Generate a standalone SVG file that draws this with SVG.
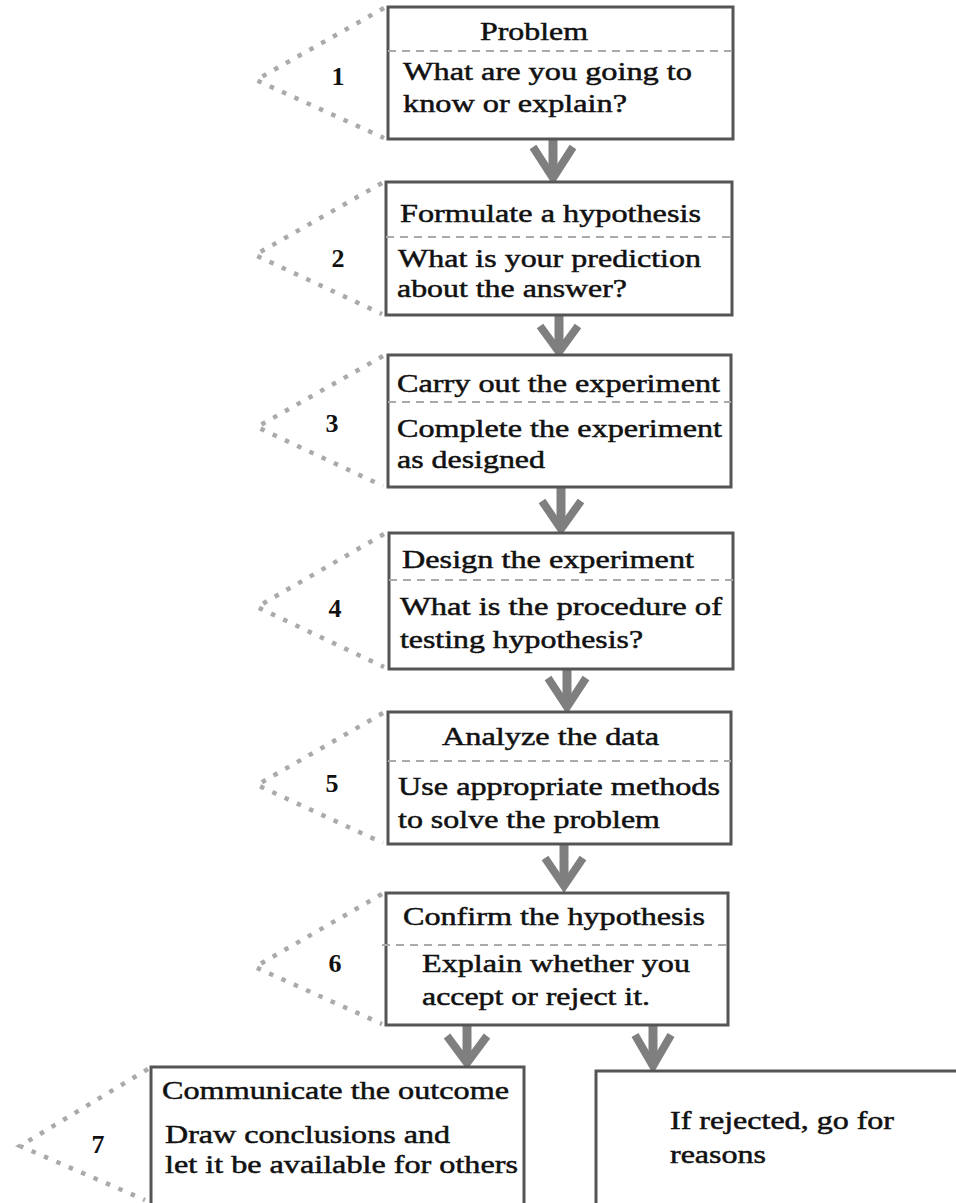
<svg xmlns="http://www.w3.org/2000/svg" width="956" height="1203" viewBox="0 0 956 1203">
<style>
.box{fill:#fff;stroke:#555;stroke-width:3}
.div{stroke:#aaa;stroke-width:2;stroke-dasharray:8 6;fill:none}
.br{fill:none;stroke:#aaa;stroke-width:4.5;stroke-dasharray:4.5 9}
.t{font-family:"Liberation Serif","Times New Roman",serif;font-size:26px;fill:#111;stroke:#111;stroke-width:0.5}
.n{font-family:"Liberation Serif","Times New Roman",serif;font-size:26px;fill:#111;text-anchor:middle;font-weight:bold}
.sh{stroke:#7f7f7f;stroke-width:9;fill:none}
.hd{stroke:#7f7f7f;stroke-width:8;fill:none;stroke-linejoin:miter}
</style>
<rect width="956" height="1203" fill="#fff"/>
<g id="connectors">
<path class="sh" d="M553,139 V178"/><path class="hd" d="M533,147 L553,178 L573,147"/>
<path class="sh" d="M559,315 V352"/><path class="hd" d="M540,326 L559,352 L578,326"/>
<path class="sh" d="M561,487 V529"/><path class="hd" d="M542,501 L561,529 L581,501"/>
<path class="sh" d="M567,669 V707"/><path class="hd" d="M548,678 L567,707 L586,678"/>
<path class="sh" d="M564,844 V886"/><path class="hd" d="M545,858 L564,886 L583,858"/>
<path class="sh" d="M467,1025 V1063"/><path class="hd" d="M447,1036 L467,1063 L487,1036"/>
<path class="sh" d="M653,1024 V1066"/><path class="hd" d="M635,1035 L653,1066 L671,1035"/>
</g>
<g id="node1">
<polyline class="br" points="384,8 256,80 384,138"/>
<rect class="box" x="388" y="7" width="345" height="132"/>
<line class="div" x1="388" y1="51" x2="733" y2="51"/>
<text class="t" x="480" y="40" textLength="108" lengthAdjust="spacingAndGlyphs">Problem</text>
<text class="t" x="403" y="80" textLength="289" lengthAdjust="spacingAndGlyphs">What are you going to</text>
<text class="t" x="403" y="112" textLength="224" lengthAdjust="spacingAndGlyphs">know or explain?</text>
<text class="n" x="338" y="85">1</text>
</g>
<g id="node2">
<polyline class="br" points="382,183 255,255 382,314"/>
<rect class="box" x="386" y="182" width="346" height="133"/>
<line class="div" x1="386" y1="237" x2="732" y2="237"/>
<text class="t" x="400" y="222" textLength="301" lengthAdjust="spacingAndGlyphs">Formulate a hypothesis</text>
<text class="t" x="398" y="267" textLength="303" lengthAdjust="spacingAndGlyphs">What is your prediction</text>
<text class="t" x="397" y="297" textLength="230" lengthAdjust="spacingAndGlyphs">about the answer?</text>
<text class="n" x="338" y="267">2</text>
</g>
<g id="node3">
<polyline class="br" points="383,356 257,427 383,486"/>
<rect class="box" x="388" y="355" width="343" height="132"/>
<line class="div" x1="388" y1="402" x2="731" y2="402"/>
<text class="t" x="397" y="392" textLength="323" lengthAdjust="spacingAndGlyphs">Carry out the experiment</text>
<text class="t" x="397" y="437" textLength="325" lengthAdjust="spacingAndGlyphs">Complete the experiment</text>
<text class="t" x="397" y="468" textLength="148" lengthAdjust="spacingAndGlyphs">as designed</text>
<text class="n" x="332" y="432">3</text>
</g>
<g id="node4">
<polyline class="br" points="384,534 257,607 384,667"/>
<rect class="box" x="389" y="533" width="344" height="136"/>
<line class="div" x1="389" y1="580" x2="733" y2="580"/>
<text class="t" x="402" y="568" textLength="292" lengthAdjust="spacingAndGlyphs">Design the experiment</text>
<text class="t" x="400" y="615" textLength="322" lengthAdjust="spacingAndGlyphs">What is the procedure of</text>
<text class="t" x="400" y="648" textLength="243" lengthAdjust="spacingAndGlyphs">testing hypothesis?</text>
<text class="n" x="335" y="617">4</text>
</g>
<g id="node5">
<polyline class="br" points="383,713 257,785 383,843"/>
<rect class="box" x="388" y="712" width="343" height="132"/>
<line class="div" x1="388" y1="761" x2="731" y2="761"/>
<text class="t" x="442" y="745" textLength="217" lengthAdjust="spacingAndGlyphs">Analyze the data</text>
<text class="t" x="398" y="795" textLength="322" lengthAdjust="spacingAndGlyphs">Use appropriate methods</text>
<text class="t" x="398" y="828" textLength="262" lengthAdjust="spacingAndGlyphs">to solve the problem</text>
<text class="n" x="332" y="792">5</text>
</g>
<g id="node6">
<polyline class="br" points="382,894 255,967 382,1024"/>
<rect class="box" x="386" y="893" width="342" height="132"/>
<line class="div" x1="382" y1="945" x2="728" y2="945"/>
<text class="t" x="403" y="925" textLength="302" lengthAdjust="spacingAndGlyphs">Confirm the hypothesis</text>
<text class="t" x="422" y="972" textLength="268" lengthAdjust="spacingAndGlyphs">Explain whether you</text>
<text class="t" x="422" y="1005" textLength="228" lengthAdjust="spacingAndGlyphs">accept or reject it.</text>
<text class="n" x="335" y="972">6</text>
</g>
<g id="node7">
<polyline class="br" points="148,1069 20,1146 145,1200"/>
<rect class="box" x="151" y="1067" width="373" height="150"/>
<text class="t" x="162" y="1099" textLength="347" lengthAdjust="spacingAndGlyphs">Communicate the outcome</text>
<text class="t" x="165" y="1143" textLength="285" lengthAdjust="spacingAndGlyphs">Draw conclusions and</text>
<text class="t" x="165" y="1173" textLength="353" lengthAdjust="spacingAndGlyphs">let it be available for others</text>
<text class="n" x="98" y="1153">7</text>
</g>
<g id="node8">
<rect class="box" x="596" y="1071" width="380" height="150"/>
<text class="t" x="670" y="1129" textLength="224" lengthAdjust="spacingAndGlyphs">If rejected, go for</text>
<text class="t" x="670" y="1163" textLength="96" lengthAdjust="spacingAndGlyphs">reasons</text>
</g>
</svg>
